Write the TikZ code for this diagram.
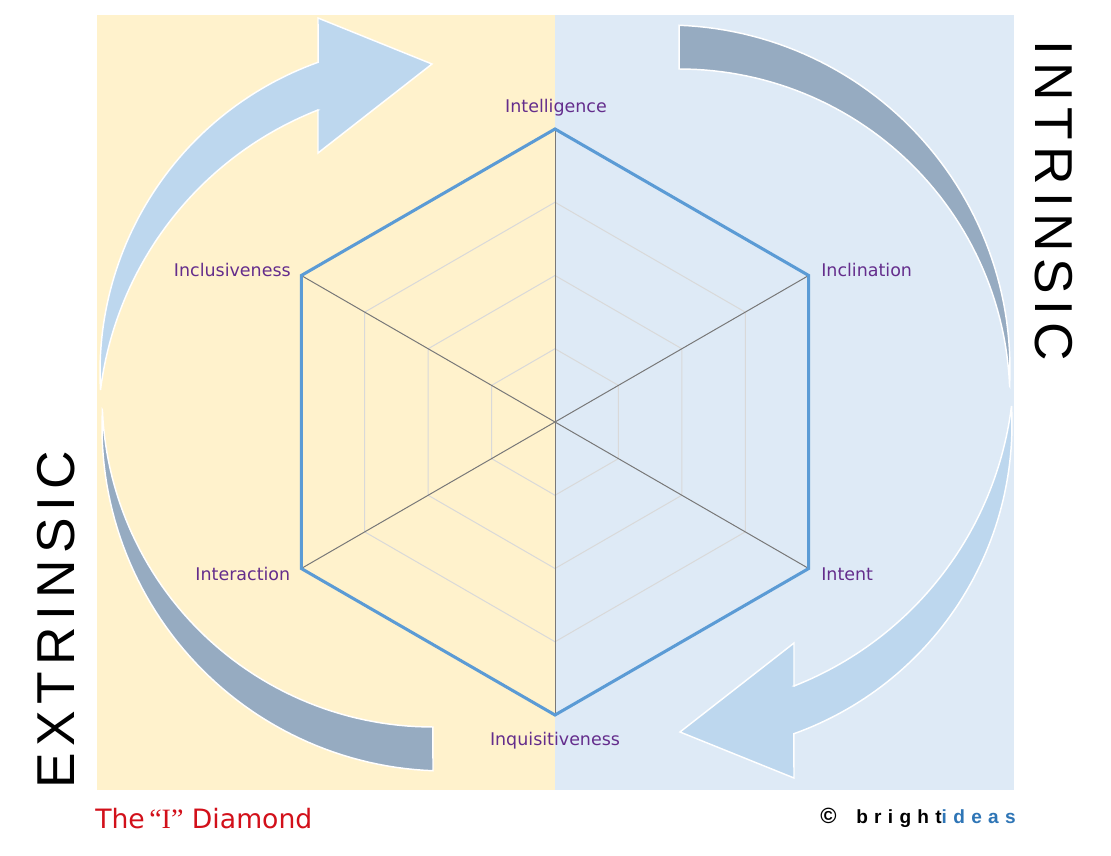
\documentclass[tikz,border=0pt]{standalone}
\usepackage{fontspec}
\setmainfont{DejaVu Sans}
\newfontfamily\arialfont{Liberation Sans}
\newfontfamily\serffont{Liberation Serif}
\newfontfamily\spacedfont[LetterSpace=12.5]{Liberation Sans}
\newfontfamily\brightfont[LetterSpace=33]{Liberation Sans}
\usetikzlibrary{calc}

\definecolor{panelY}{RGB}{255,242,204}
\definecolor{panelB}{RGB}{222,234,246}
\definecolor{arrLight}{RGB}{189,215,238}
\definecolor{arrDark}{RGB}{150,171,193}
\definecolor{hexBlue}{RGB}{91,155,213}
\definecolor{spokeGray}{RGB}{120,120,120}
\definecolor{gridGray}{RGB}{217,217,217}
\definecolor{lblPurple}{RGB}{100,45,140}
\definecolor{titleRed}{RGB}{210,16,26}
\definecolor{ideasBlue}{RGB}{46,117,182}

\begin{document}
\begin{tikzpicture}[x=0.75pt,y=-0.75pt,
  arrowpiece/.style={draw=white, line width=1.1pt, line join=miter},
  hexline/.style={draw=hexBlue, line width=2.3pt, line join=miter},
  spokeline/.style={draw=spokeGray, line width=0.75pt},
  gridline/.style={draw=gridGray, line width=0.75pt},
  lbl/.style={text=lblPurple, font=\fontsize{13.1}{15}\selectfont, inner sep=0pt},
  bigword/.style={font=\spacedfont\fontsize{40}{40}\selectfont, inner sep=0pt, text=black}
]
\useasboundingbox (0,0) rectangle (1111,856);
\fill[white] (0,0) rectangle (1111,856);

% panels
\fill[panelY] (97,15) rectangle (555,790);
\fill[panelB] (555,15) rectangle (1014,790);

% circular arrows
% light, top-left, head pointing right
\path[arrowpiece, fill=arrLight]
  plot[domain=176.9:250.3, samples=60, variable=\t] ({429+329*cos(\t)},{372+329*sin(\t)})
  -- (318,18) -- (432,64) -- (318,153) -- (318,110)
  -- plot[domain=248.57:187.12, samples=60, variable=\t] ({444.8+347*cos(\t)},{433+347*sin(\t)})
  -- cycle;
% dark, bottom-left, square tail
\path[arrowpiece, fill=arrDark]
  plot[domain=182.83:92.17, samples=60, variable=\t] ({446+344*cos(\t)},{427+344*sin(\t)})
  -- plot[domain=89.97:177.63, samples=60, variable=\t] ({432.8+330.7*cos(\t)},{396.3+330.7*sin(\t)})
  -- cycle;
% dark, top-right, square tail
\path[arrowpiece, fill=arrDark]
  plot[domain=2.83:-87.83, samples=60, variable=\t] ({666+344*cos(\t)},{369+344*sin(\t)})
  -- plot[domain=-90.03:-2.37, samples=60, variable=\t] ({679.2+330.7*cos(\t)},{399.7+330.7*sin(\t)})
  -- cycle;
% light, bottom-right, head pointing left
\path[arrowpiece, fill=arrLight]
  plot[domain=-3.1:70.3, samples=60, variable=\t] ({683+329*cos(\t)},{424+329*sin(\t)})
  -- (794,778) -- (680,732) -- (794,643) -- (794,686)
  -- plot[domain=68.57:7.12, samples=60, variable=\t] ({667.2+347*cos(\t)},{363+347*sin(\t)})
  -- cycle;

% hexagon
\coordinate (O) at (555,422);
\coordinate (vT) at (555,129);
\coordinate (vUR) at (808.7,275.5);
\coordinate (vLR) at (808.7,568.5);
\coordinate (vB) at (555,715);
\coordinate (vLL) at (301.3,568.5);
\coordinate (vUL) at (301.3,275.5);

\foreach \s in {0.25,0.5,0.75}{
  \draw[gridline] ($(O)!\s!(vT)$) -- ($(O)!\s!(vUR)$) -- ($(O)!\s!(vLR)$) -- ($(O)!\s!(vB)$) -- ($(O)!\s!(vLL)$) -- ($(O)!\s!(vUL)$) -- cycle;
}
\draw[spokeline] (vT) -- (vB);
\draw[spokeline] (vUL) -- (vLR);
\draw[spokeline] (vUR) -- (vLL);
\draw[hexline] (vT) -- (vUR) -- (vLR) -- (vB) -- (vLL) -- (vUL) -- cycle;

% labels
\node[lbl, anchor=base] (lIntel) at (556,112.5) {Intelligence};
\node[lbl, anchor=base west] (lIncl) at (821,276) {Inclination};
\node[lbl, anchor=base east] (lInclu) at (291,276) {Inclusiveness};
\node[lbl, anchor=base west] (lIntent) at (821,580.5) {Intent};
\node[lbl, anchor=base east] (lInter) at (290.5,580.5) {Interaction};
\node[lbl, anchor=base] (lInq) at (555,745.5) {Inquisitiveness};

% side words
\node[bigword, rotate=-90] (intr) at (1054,201) {INTRINSIC};
\node[bigword, rotate=90] (extr) at (56,620) {EXTRINSIC};

% footer
\node[anchor=base west, text=titleRed, font=\fontsize{20}{23}\selectfont, inner sep=0pt] (title) at (95,828.5) {The\,{\serffont\fontsize{21}{23}\selectfont “I”} Diamond};
\node[anchor=base west, font=\arialfont\bfseries\fontsize{16.5}{18}\selectfont, inner sep=0pt] (copy) at (820,823) {©};
\node[anchor=base west, font=\brightfont\bfseries\fontsize{14.3}{16}\selectfont, inner sep=0pt] (brand) at (856,823) {bright\textcolor{ideasBlue}{ideas}};
\end{tikzpicture}
\end{document}
